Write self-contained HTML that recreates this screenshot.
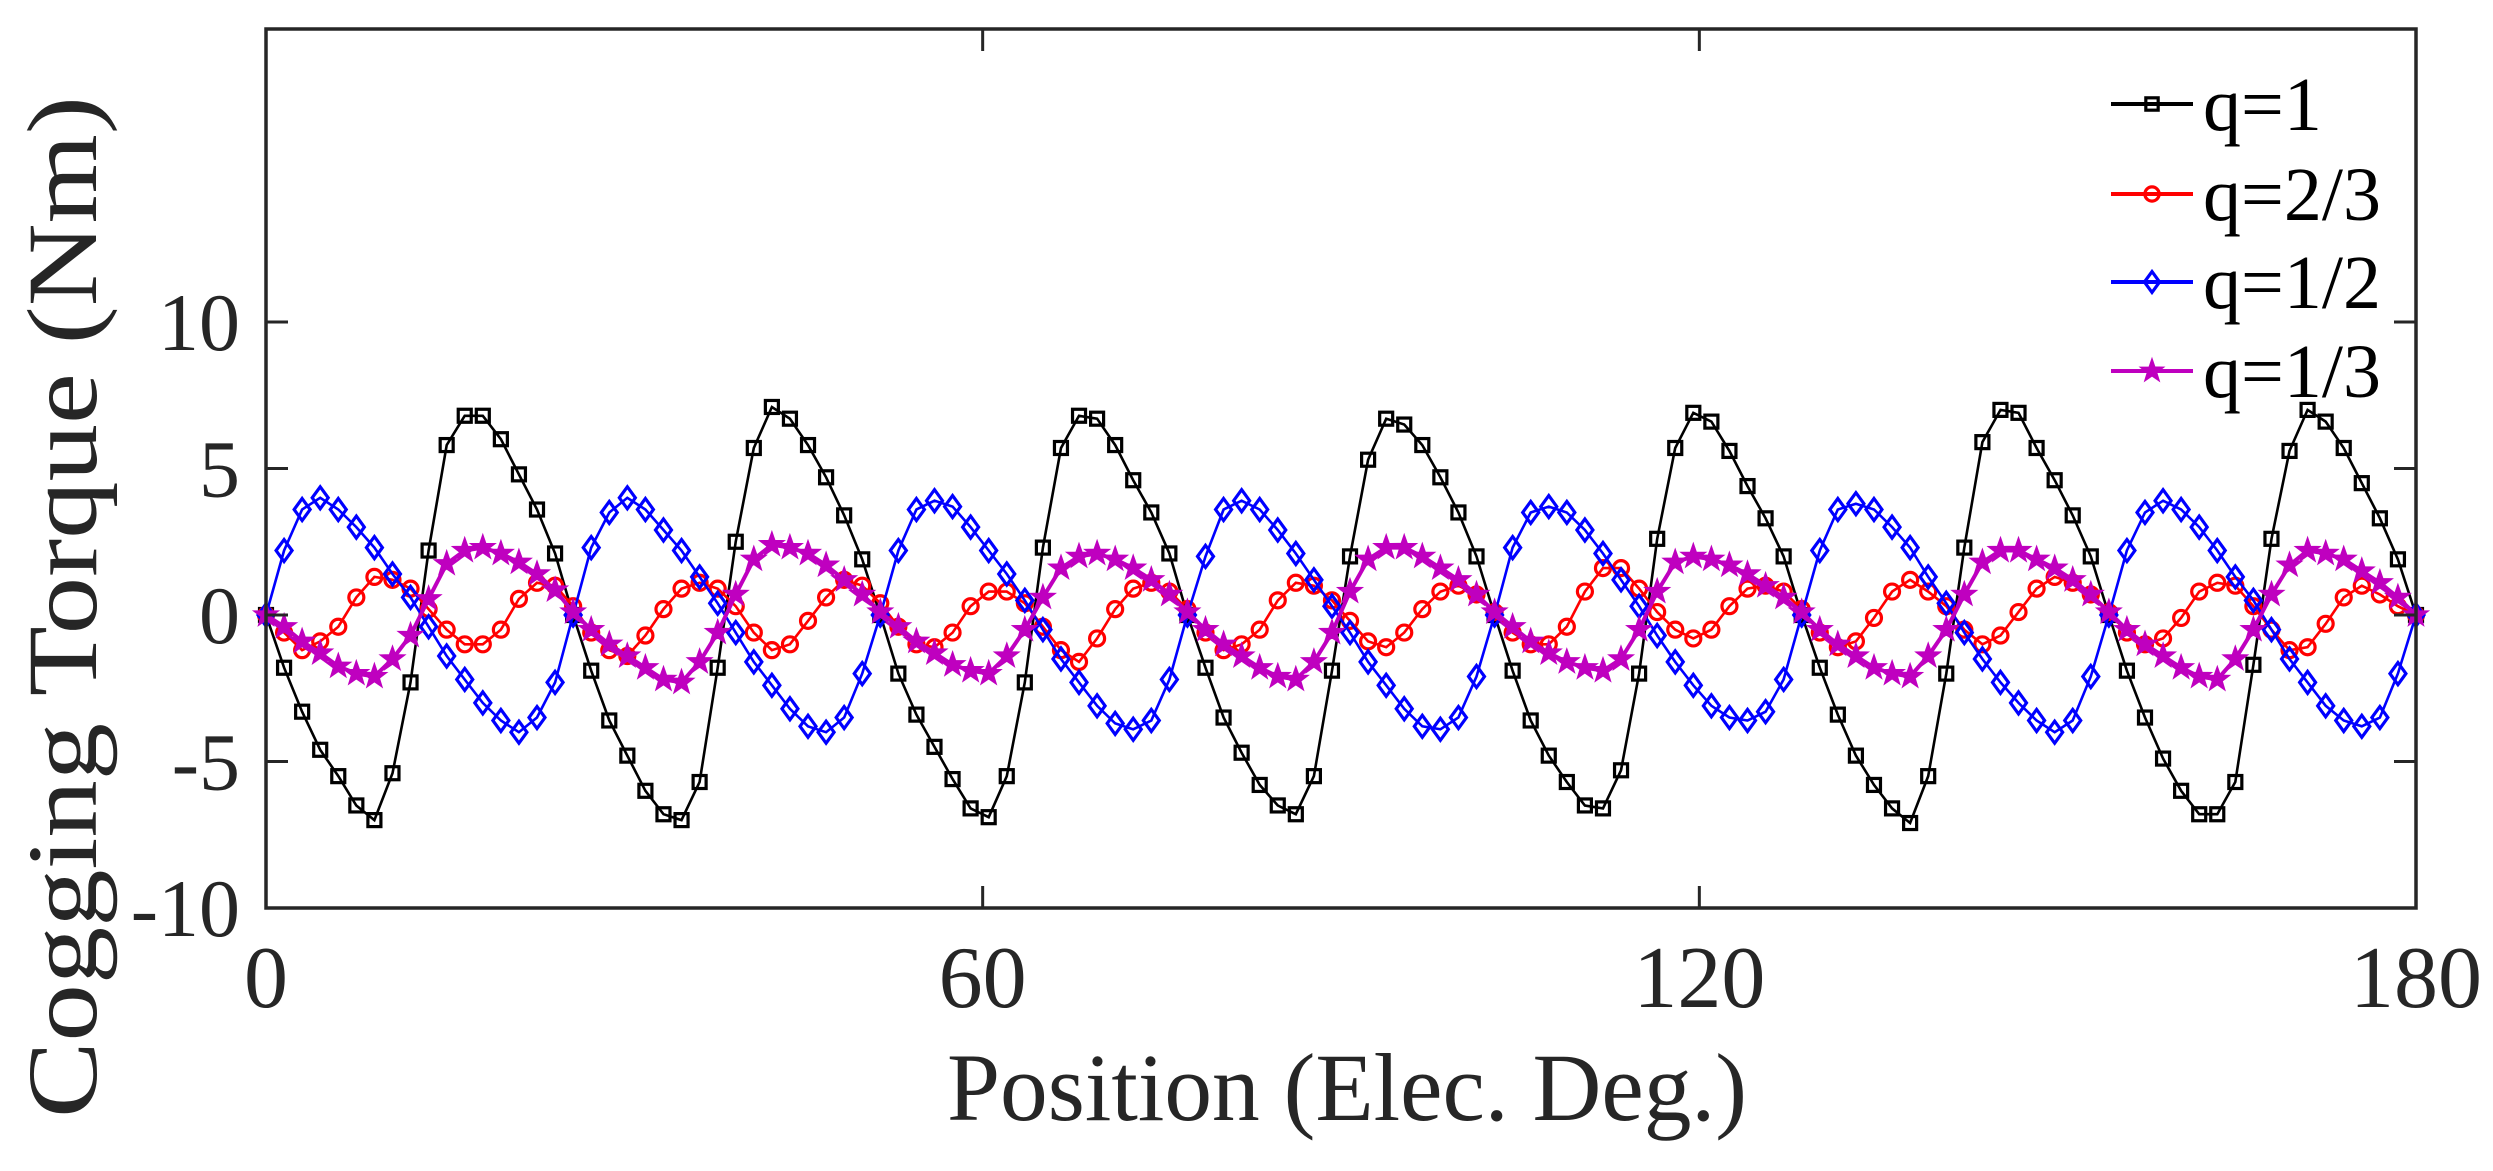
<!DOCTYPE html>
<html><head><meta charset="utf-8"><style>
html,body{margin:0;padding:0;background:#fff;}
svg{display:block;font-family:"Liberation Serif",serif;}
</style></head><body>
<svg id="chart" width="2493" height="1171" viewBox="0 0 2493 1171" xmlns="http://www.w3.org/2000/svg">
<rect x="0" y="0" width="2493" height="1171" fill="#fff"/>
<g id="series"></g>
<g id="axes"></g>
<text x="1347" y="1120" font-size="96" text-anchor="middle" textLength="800" lengthAdjust="spacingAndGlyphs" fill="#262626">Position (Elec. Deg.)</text>
<text transform="translate(96,607) rotate(-90)" font-size="100" text-anchor="middle" textLength="1022" lengthAdjust="spacingAndGlyphs" fill="#262626">Cogging Torque (Nm)</text>
<g id="legend"></g>
</svg>
<script>
const xTicks=[0,60,120,180];
const yTicks=[-10,-5,0,5,10];
const seriesNames=["q=1","q=2/3","q=1/2","q=1/3"];
const q1=[0,-1.8,-3.3,-4.6,-5.5,-6.5,-7.0,-5.4,-2.3,2.2,5.8,6.8,6.8,6.0,4.8,3.6,2.1,
0,-1.9,-3.6,-4.8,-6.0,-6.8,-7.0,-5.7,-1.8,2.5,5.7,7.1,6.7,5.8,4.7,3.4,1.9,
0,-2.0,-3.4,-4.5,-5.6,-6.6,-6.9,-5.5,-2.3,2.3,5.7,6.8,6.7,5.8,4.6,3.5,2.1,
0,-1.8,-3.5,-4.7,-5.8,-6.5,-6.8,-5.5,-1.9,2.0,5.3,6.7,6.5,5.8,4.7,3.5,2.0,
0,-1.9,-3.6,-4.8,-5.7,-6.5,-6.6,-5.3,-2.0,2.6,5.7,6.9,6.6,5.6,4.4,3.3,2.0,
0,-1.8,-3.4,-4.8,-5.8,-6.6,-7.1,-5.5,-2.0,2.3,5.9,7.0,6.9,5.7,4.6,3.4,2.0,
0,-1.9,-3.5,-4.9,-6.0,-6.8,-6.8,-5.7,-1.7,2.6,5.6,7.0,6.6,5.7,4.5,3.3,1.9,0];
const q23=[0,-0.6,-1.2,-0.9,-0.4,0.6,1.3,1.2,0.9,0.2,-0.5,-1.0,-1.0,-0.5,0.55,1.1,1.0,
0.3,-0.6,-1.2,-1.4,-0.7,0.2,0.9,1.1,0.9,0.3,-0.6,-1.2,-1.0,-0.2,0.6,1.2,1.0,
0.4,-0.4,-1.0,-1.1,-0.6,0.3,0.8,0.8,0.4,-0.4,-1.2,-1.6,-0.8,0.2,0.9,1.1,0.8,
0.2,-0.6,-1.2,-1.0,-0.5,0.5,1.1,1.0,0.5,-0.2,-0.9,-1.1,-0.6,0.2,0.8,1.0,0.7,
0.1,-0.6,-1.0,-1.0,-0.4,0.8,1.6,1.6,0.9,0.1,-0.5,-0.8,-0.5,0.3,0.9,1.0,0.8,
0.2,-0.6,-1.1,-0.9,-0.1,0.8,1.2,0.8,0.3,-0.5,-1.0,-0.7,0.1,0.9,1.3,1.1,0.7,
0.1,-0.6,-1.0,-0.8,-0.1,0.8,1.1,1.0,0.3,-0.5,-1.2,-1.1,-0.3,0.6,1.0,0.7,0.3,0];
const q12=[0,2.2,3.6,4.0,3.6,3.0,2.3,1.4,0.6,-0.4,-1.4,-2.2,-3.0,-3.6,-4.0,-3.5,-2.3,
0,2.3,3.5,4.0,3.6,2.9,2.2,1.3,0.4,-0.6,-1.6,-2.4,-3.2,-3.8,-4.0,-3.5,-2.0,
0,2.2,3.6,3.9,3.7,3.0,2.2,1.4,0.5,-0.5,-1.5,-2.3,-3.1,-3.7,-3.9,-3.6,-2.2,
0,2.0,3.6,3.9,3.6,2.9,2.1,1.2,0.3,-0.6,-1.6,-2.4,-3.2,-3.8,-3.9,-3.5,-2.1,
0,2.3,3.5,3.7,3.5,2.9,2.1,1.2,0.3,-0.7,-1.6,-2.4,-3.1,-3.5,-3.6,-3.3,-2.2,
0,2.2,3.6,3.8,3.6,3.0,2.3,1.3,0.4,-0.6,-1.5,-2.3,-3.0,-3.6,-4.0,-3.6,-2.1,
0,2.2,3.5,3.9,3.6,3.0,2.2,1.3,0.5,-0.5,-1.5,-2.3,-3.1,-3.6,-3.8,-3.5,-2.0,0];
const q13=[0,-0.4,-0.9,-1.3,-1.75,-2.0,-2.1,-1.5,-0.7,0.55,1.75,2.2,2.3,2.1,1.8,1.4,0.85,
0.1,-0.5,-1.0,-1.4,-1.8,-2.2,-2.3,-1.6,-0.6,0.7,1.9,2.4,2.3,2.1,1.7,1.2,0.7,
0.1,-0.4,-0.9,-1.3,-1.7,-1.9,-2.0,-1.4,-0.5,0.6,1.6,2.0,2.1,1.9,1.6,1.2,0.7,
0.1,-0.5,-1.0,-1.4,-1.8,-2.1,-2.2,-1.6,-0.6,0.8,1.9,2.3,2.3,2.0,1.6,1.2,0.7,
0.1,-0.4,-0.9,-1.3,-1.6,-1.8,-1.9,-1.5,-0.5,0.8,1.8,2.0,1.9,1.7,1.4,1.0,0.6,
0.1,-0.5,-1.0,-1.4,-1.8,-2.0,-2.1,-1.4,-0.5,0.7,1.8,2.2,2.2,1.9,1.6,1.2,0.7,
0.1,-0.5,-1.0,-1.4,-1.8,-2.1,-2.2,-1.5,-0.5,0.7,1.7,2.2,2.1,1.9,1.5,1.1,0.6,0];

const X0=266,X1=2416,Y0=908,Y1=29;
function xs(v){return X0+(v-0)/(180-0)*(X1-X0);}
function ys(v){return Y0-(v+10)/30*(Y0-Y1);}
const NS="http://www.w3.org/2000/svg";
function mk(t,a,p){const e=document.createElementNS(NS,t);for(const k in a)e.setAttribute(k,a[k]);p.appendChild(e);return e;}
const sg=document.getElementById('series');
const ag=document.getElementById('axes');
const lg=document.getElementById('legend');

function marker(type,cx,cy,col,sc,p){
  let e;
  if(type==='sq'){const s=13*sc;e=mk('rect',{x:cx-s/2,y:cy-s/2,width:s,height:s,fill:'none',stroke:col,'stroke-width':3.2},p);}
  else if(type==='ci'){e=mk('circle',{cx:cx,cy:cy,r:7.5*sc,fill:'none',stroke:col,'stroke-width':3.2},p);}
  else if(type==='di'){const w=8*sc,h=11*sc;e=mk('polygon',{points:`${cx},${cy-h} ${cx+w},${cy} ${cx},${cy+h} ${cx-w},${cy}`,fill:'none',stroke:col,'stroke-width':3.2},p);}
  else {let pts=[];for(let i=0;i<10;i++){const r=(i%2?5:12.5)*sc;const a=-Math.PI/2+i*Math.PI/5;pts.push((cx+r*Math.cos(a)).toFixed(1)+','+(cy+r*Math.sin(a)).toFixed(1));}
    e=mk('polygon',{points:pts.join(' '),fill:col,stroke:col,'stroke-width':1.5},p);}
  return e;
}
const defs=[[q1,'#000','sq',2.6,'series-q1'],[q23,'#ff0000','ci',2.6,'series-q2-3'],[q12,'#0000ff','di',2.6,'series-q1-2'],[q13,'#bf00bf','st',4,'series-q1-3']];
defs.forEach(([d,col,m,lw,nm])=>{
  const g=mk('g',{},sg);
  
  
  const n=d.length-1;
  const pts=d.map((v,i)=>xs(i*180/n).toFixed(1)+','+ys(v).toFixed(1)).join(' ');
  const pl=mk('polyline',{points:pts,fill:'none',stroke:col,'stroke-width':lw},g);
  
  
  d.forEach((v,i)=>{const e=marker(m,xs(i*180/n),ys(v),col,1,g);
    
    });
});
const box=mk('rect',{x:X0,y:Y1,width:X1-X0,height:Y0-Y1,fill:'none',stroke:'#262626','stroke-width':3.5},ag);


xTicks.forEach(t=>{const x=xs(t);
  mk('line',{x1:x,y1:Y0,x2:x,y2:Y0-22,stroke:'#262626','stroke-width':3},ag);
  mk('line',{x1:x,y1:Y1,x2:x,y2:Y1+22,stroke:'#262626','stroke-width':3},ag);
  const tx=mk('text',{x:x,y:1007,'font-size':88,'text-anchor':'middle',fill:'#262626'},ag);
  
  
  tx.textContent=t;});
yTicks.forEach(t=>{const y=ys(t);
  mk('line',{x1:X0,y1:y,x2:X0+22,y2:y,stroke:'#262626','stroke-width':3},ag);
  mk('line',{x1:X1,y1:y,x2:X1-22,y2:y,stroke:'#262626','stroke-width':3},ag);
  const tx=mk('text',{x:240,y:y+28,'font-size':82,'text-anchor':'end',fill:'#262626'},ag);
  
  
  tx.textContent=t;});
const ly=[104,194,282,371];
defs.forEach(([d,col,m,lw,nm],i)=>{
  const g=mk('g',{},lg);
  
  
  mk('line',{x1:2111,y1:ly[i],x2:2193,y2:ly[i],stroke:col,'stroke-width':4},g);
  marker(m,2152,ly[i],col,0.95,g);
  const t=mk('text',{x:2203,y:ly[i]+26,'font-size':76,fill:'#000'},g);
  t.textContent=seriesNames[i];
});
</script>
</body></html>
